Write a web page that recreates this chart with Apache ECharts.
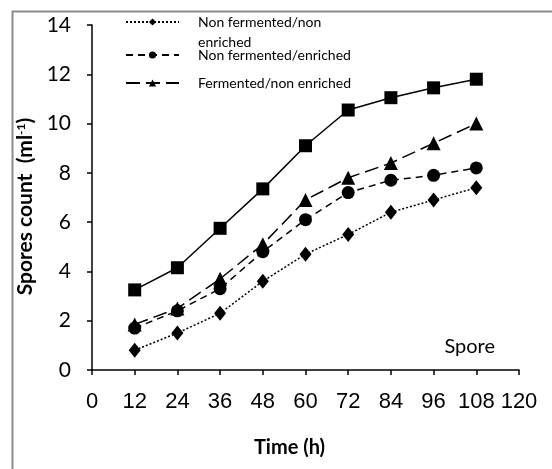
<!DOCTYPE html>
<html>
<head>
<meta charset="utf-8">
<script src="https://cdn.jsdelivr.net/npm/echarts@6/dist/echarts.min.js"></script>
<style>
  html, body { margin: 0; padding: 0; background: #fff; }
  #chart { width: 552px; height: 469px; }
</style>
</head>
<body>
<div id="chart"></div>
<script>
// hours sampled
var hours = [12, 24, 36, 48, 60, 72, 84, 96, 108];
// spore counts
var nonFermNonEnr = [0.8, 1.5, 2.3, 3.6, 4.7, 5.5, 6.4, 6.9, 7.4];
var nonFermEnr = [1.7, 2.4, 3.3, 4.8, 6.1, 7.2, 7.7, 7.9, 8.2];
var fermNonEnr = [1.85, 2.5, 3.7, 5.1, 6.9, 7.8, 8.4, 9.2, 10.0];
var fermEnr = [3.25, 4.15, 5.75, 7.35, 9.1, 10.55, 11.05, 11.45, 11.8];

var chart = echarts.init(document.getElementById('chart'));

function pts(ys) {
  return hours.map(function (h, i) { return [h, ys[i]]; });
}

var legendText = { fontFamily: 'Lato', fontSize: 14, color: '#000', padding: [0, 0, 0, 14] };

var option = {
  animation: false,
  backgroundColor: '#fff',
  grid: { left: 92, right: 33, top: 25, bottom: 99 },
  legend: [
    {
      data: ['Non fermented/non enriched'],
      left: 125, top: -8, padding: 0,
      itemWidth: 53, itemHeight: 9,
      // blank first line keeps "Non fermented/non" level with the icon
      formatter: function () { return ' \nNon fermented/non\nenriched'; },
      textStyle: Object.assign({ lineHeight: 20 }, legendText)
    },
    {
      data: ['Non fermented/enriched'],
      left: 125, top: 48, padding: 0,
      itemWidth: 53, itemHeight: 9,
      textStyle: legendText
    },
    {
      data: ['Fermented/non enriched'],
      left: 125, top: 76, padding: 0,
      itemWidth: 53, itemHeight: 9,
      textStyle: legendText
    }
  ],
  xAxis: {
    type: 'value', min: 0, max: 120, interval: 12,
    name: 'Time (h)', nameLocation: 'middle', nameGap: 68,
    nameTextStyle: { fontFamily: 'Lato', fontWeight: 'bold', fontSize: 20, color: '#000', padding: [0, 32, 0, 0] },
    axisLine: { lineStyle: { color: '#000', width: 1.5 } },
    axisTick: { length: 5, lineStyle: { color: '#000', width: 1.5 } },
    axisLabel: { fontFamily: 'Liberation Sans', fontSize: 22, color: '#000', margin: 21 },
    splitLine: { show: false }
  },
  yAxis: {
    type: 'value', min: 0, max: 14, interval: 2,
    name: 'Spores count  (ml{sup|-1})', nameLocation: 'middle', nameGap: 44,
    nameTextStyle: {
      fontFamily: 'Lato', fontWeight: 'bold', fontSize: 21, color: '#000',
      padding: [0, 18, 0, 0],
      rich: { sup: { fontFamily: 'Lato', fontWeight: 'bold', fontSize: 12, verticalAlign: 'top', color: '#000' } }
    },
    axisLine: { show: true, lineStyle: { color: '#000', width: 1.5 } },
    axisTick: { show: true, length: 5, lineStyle: { color: '#000', width: 1.5 } },
    axisLabel: { fontFamily: 'Lato', fontSize: 21, color: '#000', margin: 21 },
    splitLine: { show: false }
  },
  series: [
    {
      name: 'Non fermented/non enriched', type: 'line', data: pts(nonFermNonEnr),
      symbol: 'diamond', symbolSize: [12, 15],
      lineStyle: { color: '#000', width: 1.5, type: [2, 2] },
      itemStyle: { color: '#000' }
    },
    {
      name: 'Non fermented/enriched', type: 'line', data: pts(nonFermEnr),
      symbol: 'circle', symbolSize: 13,
      lineStyle: { color: '#000', width: 1.5, type: [7, 5] },
      itemStyle: { color: '#000' }
    },
    {
      name: 'Fermented/non enriched', type: 'line', data: pts(fermNonEnr),
      symbol: 'triangle', symbolSize: 14,
      lineStyle: { color: '#000', width: 1.5, type: [14, 6] },
      itemStyle: { color: '#000' }
    },
    {
      name: 'Fermented/enriched', type: 'line', data: pts(fermEnr),
      symbol: 'rect', symbolSize: 13,
      lineStyle: { color: '#000', width: 1.5 },
      itemStyle: { color: '#000' }
    }
  ],
  graphic: [
    {
      type: 'rect', left: 10, top: 9, silent: true,
      shape: { width: 560, height: 480 },
      style: { fill: null, stroke: '#8c8c8c', lineWidth: 2 }
    },
    {
      type: 'text', right: 57, top: 337,
      style: { text: 'Spore', fontFamily: 'Lato', fontSize: 20, fill: '#000' }
    }
  ]
};

chart.setOption(option);
</script>
</body>
</html>
